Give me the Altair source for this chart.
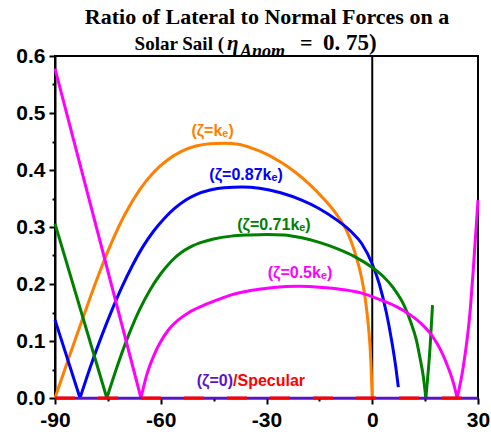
import altair as alt
import pandas as pd

# ---------------- data ----------------
x_ticks = [-90, -60, -30, 0, 30]
x_minor = [-75, -45, -15, 15]
y_ticks = [0.0, 0.1, 0.2, 0.3, 0.4, 0.5, 0.6]
y_minor = [0.05, 0.15, 0.25, 0.35, 0.45, 0.55]

series_names = ["(ζ=kₑ)", "(ζ=0.87kₑ)", "(ζ=0.71kₑ)", "(ζ=0.5kₑ)", "(ζ=0)", "Specular"]
series_colors = ["#FF8000", "#0000FF", "#008000", "#FF00FF", "#5A14C8", "#FF0000"]

# each series is a list of segments (split at the V-shaped zeros)
orange_x = [[-90, -86, -82, -78, -74, -70, -66, -62, -58, -54, -50, -46, -42, -38, -34, -30, -26, -22,
             -18, -14, -10, -7, -5, -3, -2, -1, -0.4, 0]]
orange_y = [[0, 0.072, 0.142, 0.210, 0.272, 0.324, 0.365, 0.396, 0.418, 0.433, 0.442, 0.446, 0.447,
             0.445, 0.438, 0.428, 0.414, 0.397, 0.376, 0.351, 0.321, 0.290, 0.257, 0.210, 0.175, 0.120,
             0.065, 0]]

blue_x = [[-90, -82.9],
          [-82.9, -80, -77, -74, -71, -68, -65, -62, -59, -56, -53, -50, -46, -42, -37, -32, -26, -20,
           -15, -10, -6, -3, 0, 2, 4, 5.5, 6.5, 7.4]]
blue_y = [[0.137, 0],
          [0, 0.054, 0.105, 0.152, 0.195, 0.233, 0.266, 0.293, 0.315, 0.333, 0.347, 0.357, 0.365, 0.369,
           0.370, 0.368, 0.360, 0.347, 0.332, 0.312, 0.292, 0.271, 0.235, 0.200, 0.150, 0.101, 0.062, 0.019]]

green_x = [[-90, -75.3],
           [-75.3, -72, -69, -66, -63, -60, -57, -54, -51, -48, -45, -40, -35, -30, -25, -20, -15, -10,
            -5, 0, 3, 6, 9, 11, 12.5, 13.5, 14.5, 15.2],
           [15.2, 16.4, 17.1]]
green_y = [[0.306, 0],
           [0, 0.062, 0.112, 0.155, 0.190, 0.218, 0.240, 0.256, 0.267, 0.274, 0.279, 0.284, 0.286, 0.287,
            0.286, 0.281, 0.273, 0.262, 0.248, 0.229, 0.214, 0.193, 0.163, 0.132, 0.102, 0.072, 0.037, 0],
           [0, 0.089, 0.163]]

magenta_x = [[-90, -65.6],
             [-65.6, -64, -62, -60, -58, -55, -52, -48, -44, -40, -35, -28, -21, -14, -8, -3, 2, 7, 11,
              14, 17, 19.5, 21.5, 23, 24.1],
             [24.1, 25.8, 27.7, 29.1, 30]]
magenta_y = [[0.578, 0],
             [0, 0.040, 0.074, 0.099, 0.118, 0.137, 0.150, 0.162, 0.172, 0.181, 0.188, 0.194, 0.196, 0.194,
              0.190, 0.184, 0.173, 0.160, 0.145, 0.130, 0.109, 0.083, 0.054, 0.027, 0],
             [0, 0.054, 0.148, 0.265, 0.347]]

zero_x = [[-90, 30]]
zero_y = [[0, 0]]

# annotation labels (data coordinates)
label_text = ["(ζ=kₑ)", "(ζ=0.87kₑ)", "(ζ=0.71kₑ)", "(ζ=0.5kₑ)"]
label_x = [-45.3, -35.8, -27.9, -20.5]
label_y = [0.468, 0.392, 0.304, 0.219]
label_color = ["#FF8000", "#0000FF", "#008000", "#FF00FF"]

spec_text = ["(ζ=0)", "/Specular"]
spec_x = [-39.5, -39.5]
spec_y = [0.029, 0.029]
spec_color = ["#5A14C8", "#FF0000"]
spec_align = ["right", "left"]

# ---------------- build tables ----------------
def rows(name, xs, ys):
    out = []
    for s, (sx, sy) in enumerate(zip(xs, ys)):
        for i, (a, b) in enumerate(zip(sx, sy)):
            out.append({"series": name, "seg": f"{name}-{s}", "i": i, "x": a, "y": b})
    return out

curve_rows = (rows(series_names[0], orange_x, orange_y) + rows(series_names[1], blue_x, blue_y)
              + rows(series_names[2], green_x, green_y) + rows(series_names[3], magenta_x, magenta_y))
curves = pd.DataFrame(curve_rows)
zero_df = pd.DataFrame(rows(series_names[4], zero_x, zero_y))
spec_df = pd.DataFrame(rows(series_names[5], zero_x, zero_y))

xs = alt.Scale(domain=[-90, 30], nice=False, zero=False)
ys = alt.Scale(domain=[0, 0.6], nice=False, zero=False)
cs = alt.Scale(domain=series_names, range=series_colors)

main_x_axis = alt.Axis(values=x_ticks, labelExpr="'' + datum.value", tickSize=6, labelPadding=5,
                       labelFlush=False, labelOverlap=False, orient="bottom", title=None, grid=False)
main_y_axis = alt.Axis(values=y_ticks, format=".1f", tickSize=6, labelPadding=4, labelOverlap=False,
                       orient="left", title=None, grid=False)

lines = alt.Chart(curves).mark_line(strokeWidth=3, interpolate="monotone").encode(
    x=alt.X("x:Q", scale=xs, axis=main_x_axis),
    y=alt.Y("y:Q", scale=ys, axis=main_y_axis),
    color=alt.Color("series:N", scale=cs, legend=None),
    detail="seg:N",
    order="i:Q",
)

minor = alt.Chart(pd.DataFrame({"x": x_minor[:1], "y": y_minor[:1]})).mark_point(opacity=0).encode(
    x=alt.X("x:Q", scale=xs, axis=alt.Axis(values=x_minor, labels=False, tickSize=3, domain=False,
                                           orient="bottom", title=None, grid=False)),
    y=alt.Y("y:Q", scale=ys, axis=alt.Axis(values=y_minor, labels=False, tickSize=3, domain=False,
                                           orient="left", title=None, grid=False)),
)

vline = alt.Chart(pd.DataFrame({"x": [0]})).mark_rule(color="black", strokeWidth=2).encode(
    x=alt.X("x:Q", scale=xs, axis=None)
)

zero_line = alt.Chart(zero_df).mark_line(strokeWidth=2.5).encode(
    x=alt.X("x:Q", scale=xs, axis=None),
    y=alt.Y("y:Q", scale=ys, axis=None),
    color=alt.Color("series:N", scale=cs, legend=None),
)
spec_line = alt.Chart(spec_df).mark_line(strokeWidth=3, strokeDash=[20, 23]).encode(
    x=alt.X("x:Q", scale=xs, axis=None),
    y=alt.Y("y:Q", scale=ys, axis=None),
    color=alt.Color("series:N", scale=cs, legend=None),
)

lab_df = pd.DataFrame({"x": label_x, "y": label_y, "t": label_text, "c": label_color})
labels = alt.Chart(lab_df).mark_text(font="Liberation Sans", fontWeight="bold", fontSize=16,
                                     align="center", baseline="middle").encode(
    x=alt.X("x:Q", scale=xs, axis=None),
    y=alt.Y("y:Q", scale=ys, axis=None),
    text="t:N",
    color=alt.Color("c:N", scale=None, legend=None),
)

spec_labels = []
for t, sx, sy, c, a in zip(spec_text, spec_x, spec_y, spec_color, spec_align):
    spec_labels.append(
        alt.Chart(pd.DataFrame({"x": [sx], "y": [sy], "t": [t]})).mark_text(
            font="Liberation Sans", fontWeight="bold", fontSize=16, align=a, baseline="middle", color=c
        ).encode(
            x=alt.X("x:Q", scale=xs, axis=None),
            y=alt.Y("y:Q", scale=ys, axis=None),
            text="t:N",
        )
    )

# ---------------- title (text marks, pixel positions relative to plot area) ----------------
one = alt.Data(values=[{}])
def ttext(text, px, py, size=20, style="normal", align="left"):
    return alt.Chart(one).mark_text(font="Liberation Serif", fontWeight="bold", fontStyle=style,
                                    fontSize=size, align=align, baseline="alphabetic",
                                    color="black").encode(
        x=alt.value(px), y=alt.value(py), text=alt.value(text))

title_parts = [
    ttext("Ratio of Lateral to Normal Forces on a", 212, -32, size=22, align="center"),
    ttext("Solar Sail (", 169, -6, size=19, align="right"),
    ttext("η", 172, -6, style="italic", size=21),
    ttext("Anom", 185, 1, size=18, style="italic"),
    ttext("=", 245, -6, size=22),
    ttext("0. 75)", 268, -6, size=23),
]

chart = alt.layer(vline, lines, zero_line, spec_line, labels, *spec_labels, minor, *title_parts).resolve_axis(
    x="independent", y="independent"
).properties(
    width=423, height=342,
    autosize=alt.AutoSizeParams(type="none"),
    padding={"left": 55, "top": 56, "right": 13, "bottom": 36},
).configure_view(
    stroke="black", strokeWidth=2
).configure_axis(
    domainColor="black", domainWidth=2, tickColor="black", tickWidth=2,
    labelFont="Liberation Sans", labelFontSize=21, labelFontWeight="bold", labelColor="black",
    grid=False,
)

chart.save("out.html", embed_options={"renderer": "svg", "actions": False})
